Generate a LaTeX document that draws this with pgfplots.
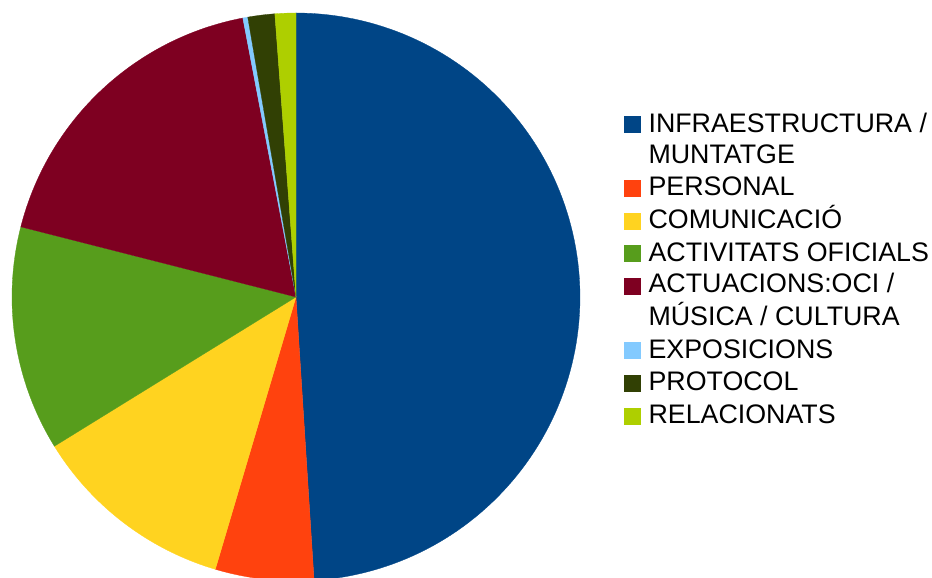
\documentclass[border=0pt]{standalone}
\usepackage{fontspec}
\setmainfont{Liberation Sans}
\usepackage{pgfplots}
\usepackage{pgfplotstable}
\pgfplotsset{compat=1.18}
\definecolor{cInfra}{HTML}{004586}
\definecolor{cPers}{HTML}{FF420E}
\definecolor{cCom}{HTML}{FFD320}
\definecolor{cAct}{HTML}{579D1C}
\definecolor{cOci}{HTML}{7E0021}
\definecolor{cExp}{HTML}{83CAFF}
\definecolor{cProt}{HTML}{314004}
\definecolor{cRel}{HTML}{AECF00}
\pgfplotstableread{
category value
Infraestructura 48.99
Personal 5.60
Comunicacio 11.61
Activitats 12.78
Actuacions 18.03
Exposicions 0.28
Protocol 1.53
Relacionats 1.19
}\piedata
\newcommand\pieslice[3][]{%
  \edef\doslice{\noexpand\addplot[fill=#3, draw=#3, line width=0.3pt, domain=\csname pieS#2\endcsname:\csname pieE#2\endcsname, samples=120, variable=\noexpand\t, #1] ({296+284*sin(\noexpand\t)},{281+284*cos(\noexpand\t)}) -- (axis cs:296,281) -- cycle;}%
  \doslice}
\newcommand\lstrut{\vrule height 21.7pt depth 9.3pt width 0pt\relax}
\newcommand\oneline[1]{\lstrut #1}
\newcommand\twolines[2]{\begin{tabular}[b]{@{}l@{}}\lstrut #1\\\lstrut #2\end{tabular}}
\begin{document}
\begin{tikzpicture}
\gdef\pietotal{0}%
\pgfplotsforeachungrouped \i in {0,...,7}{%
  \pgfplotstablegetelem{\i}{value}\of\piedata
  \pgfmathsetmacro\tmp{\pietotal+\pgfplotsretval}%
  \xdef\pietotal{\tmp}}%
\gdef\piecum{0}%
\pgfplotsforeachungrouped \i in {0,...,7}{%
  \pgfplotstablegetelem{\i}{value}\of\piedata
  \pgfmathsetmacro\tmp{\piecum+(\pgfplotsretval/\pietotal)*360}%
  \expandafter\xdef\csname pieS\i\endcsname{\piecum}%
  \expandafter\xdef\csname pieE\i\endcsname{\tmp}%
  \xdef\piecum{\tmp}}%
\begin{axis}[
  width=932pt, height=578pt, scale only axis,
  xmin=0, xmax=932, ymin=0, ymax=578,
  hide axis, clip=true,
  legend image code/.code={\fill[#1] (0pt,-0.2pt) rectangle (16pt,15.8pt);},
  legend style={at={(0.6698,0.8126)}, anchor=north west, draw=none, fill=none,
    inner sep=0pt, outer sep=0pt, row sep=5.6pt, column sep=6pt,
    font=\fontsize{26.8}{31}\selectfont,
    cells={anchor=base west, inner sep=0pt, text height=21.7pt, text depth=9.3pt}},
]
\pieslice[legend image post style={yshift=31pt}]{0}{cInfra}
\addlegendentry[text height=52.7pt]{\twolines{INFRAESTRUCTURA /}{MUNTATGE}}
\pieslice{1}{cPers}
\addlegendentry{\oneline{PERSONAL}}
\pieslice{2}{cCom}
\addlegendentry{\oneline{COMUNICACIÓ}}
\pieslice{3}{cAct}
\addlegendentry{\oneline{ACTIVITATS OFICIALS}}
\pieslice[legend image post style={yshift=31pt}]{4}{cOci}
\addlegendentry[text height=52.7pt]{\twolines{ACTUACIONS:OCI /}{MÚSICA / CULTURA}}
\pieslice{5}{cExp}
\addlegendentry{\oneline{EXPOSICIONS}}
\pieslice{6}{cProt}
\addlegendentry{\oneline{PROTOCOL}}
\pieslice{7}{cRel}
\addlegendentry{\oneline{RELACIONATS}}
\end{axis}
\pgfresetboundingbox
\path (0,0) rectangle (932pt,578pt);
\end{tikzpicture}
\end{document}
